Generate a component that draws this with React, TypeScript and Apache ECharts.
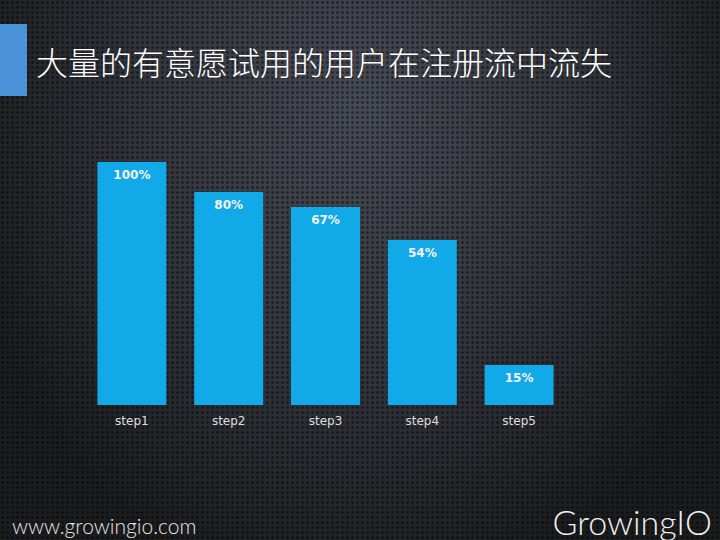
import React, { useEffect, useRef } from "react";
import * as echarts from "echarts";

const TITLE = "大量的有意愿试用的用户在注册流中流失";
const categories = ["step1", "step2", "step3", "step4", "step5"];
// drawn bar heights (relative to step1 = 100), as they appear in the picture
const barHeights = [100, 87.7, 81.5, 67.9, 16.5];
// printed labels on the bars
const barLabels = ["100%", "80%", "67%", "54%", "15%"];
const SITE = "www.growingio.com";
const BRAND = "GrowingIO";

export default function App() {
  const ref = useRef<HTMLDivElement>(null);
  useEffect(() => {
    const chart = echarts.init(ref.current!, null, { renderer: "svg" });
    chart.setOption({
      animation: false,
      backgroundColor: "transparent",
      grid: { left: 83.5, right: 152.5, top: 162, bottom: 135 },
      xAxis: {
        type: "category",
        data: categories,
        axisLine: { show: false },
        axisTick: { show: false },
        axisLabel: {
          color: "#dedede",
          fontSize: 12,
          fontFamily: "'DejaVu Sans', sans-serif",
          margin: 10,
        },
      },
      yAxis: {
        type: "value",
        min: 0,
        max: 100,
        show: false,
        splitLine: { show: false },
      },
      series: [
        {
          type: "bar",
          data: barHeights,
          barWidth: 69,
          itemStyle: { color: "#12a9e8" },
          label: {
            show: true,
            position: "insideTop",
            distance: 7,
            color: "#f2f2f2",
            fontSize: 12,
            fontWeight: "bold",
            fontFamily: "'DejaVu Sans', sans-serif",
            formatter: (p: any) => barLabels[p.dataIndex],
          },
        },
      ],
      graphic: [
        {
          type: "rect",
          shape: { x: 0, y: 24, width: 27, height: 72 },
          style: { fill: "#4a93d8" },
        },
        {
          type: "text",
          x: 36,
          y: 61,
          style: {
            text: TITLE,
            fill: "#ffffff",
            fontSize: 32,
            fontWeight: 300,
            fontFamily: "'Noto Sans CJK SC', sans-serif",
            verticalAlign: "middle",
          },
        },
        {
          type: "text",
          x: 12,
          y: 525,
          style: {
            text: SITE,
            fill: "#e6e6e6",
            fontSize: 21,
            fontWeight: 300,
            fontFamily: "Lato, 'Open Sans', sans-serif",
            verticalAlign: "middle",
          },
        },
        {
          type: "text",
          x: 712,
          y: 521,
          style: {
            text: BRAND,
            fill: "#f0f0f0",
            fontSize: 34,
            fontFamily: "Lato, 'Open Sans', sans-serif",
            fontWeight: 300,
            align: "right",
            verticalAlign: "middle",
          },
        },
      ],
    });
    return () => chart.dispose();
  }, []);

  return (
    <div
      style={{
        position: "absolute",
        left: 0,
        top: 0,
        width: 720,
        height: 540,
        background:
          "radial-gradient(circle, rgba(0,0,0,0.45) 1px, transparent 1.6px) 0 0/5px 5px, radial-gradient(ellipse at 50% 20%, #464a52 0%, #30333a 45%, #1b1c1e 80%), #1c1c1e",
      }}
    >
      <div ref={ref} style={{ width: 720, height: 540 }} />
    </div>
  );
}
